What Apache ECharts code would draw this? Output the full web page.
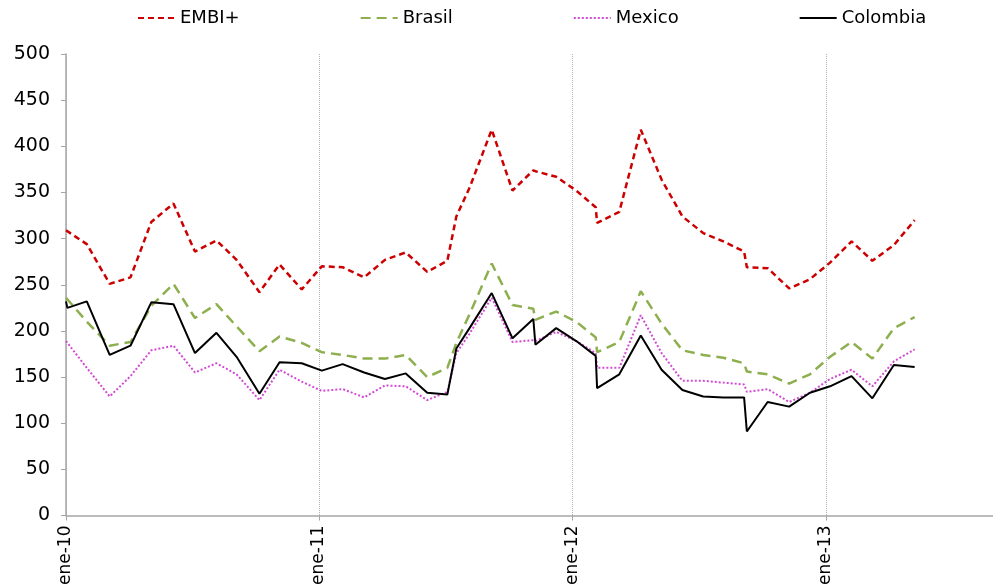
<!DOCTYPE html>
<html>
<head>
<meta charset="utf-8">
<title>Spreads EMBI+</title>
<script src="https://cdn.jsdelivr.net/npm/echarts@6/dist/echarts.min.js"></script>
<style>
  html, body { margin: 0; padding: 0; background: #fff; }
  #chart { width: 993px; height: 588px; }
</style>
</head>
<body>
<div id="chart"></div>
<script>
// Observation dates (spreads in basis points)
const dates = [
  '2010-01-01', '2010-01-03', '2010-01-31', '2010-03-05', '2010-04-04', '2010-05-04',
  '2010-06-05', '2010-07-06', '2010-08-06', '2010-09-04', '2010-10-07', '2010-11-05',
  '2010-12-07', '2011-01-05', '2011-02-04', '2011-03-07', '2011-04-06', '2011-05-06',
  '2011-06-06', '2011-07-05', '2011-07-18', '2011-08-06', '2011-09-07', '2011-10-07',
  '2011-11-06', '2011-11-09', '2011-12-09', '2012-01-07', '2012-02-04', '2012-02-06',
  '2012-03-09', '2012-04-09', '2012-05-09', '2012-06-08', '2012-07-08', '2012-08-06',
  '2012-09-05', '2012-09-09', '2012-10-09', '2012-11-09', '2012-12-09', '2013-01-07',
  '2013-02-07', '2013-03-09', '2013-04-09', '2013-05-09'
];

const embi = [
  309, 307, 294, 251, 258, 318, 338, 286, 298, 277, 242, 272,
  245, 270, 269, 258, 277, 285, 264, 276, 324, 355, 418, 352,
  374, 373, 367, 352, 334, 317, 329, 418, 364, 324, 306, 297,
  286, 269, 268, 246, 256, 274, 297, 276, 293, 320
];

const brasil = [
  236, 234, 210, 184, 188, 227, 251, 214, 229, 205, 178, 194,
  187, 177, 174, 170, 170, 174, 150, 160, 187, 218, 273, 228,
  224, 212, 221, 210, 193, 177, 188, 243, 208, 179, 174, 171,
  165, 156, 153, 143, 153, 172, 188, 170, 203, 215
];

const mexico = [
  189, 187, 160, 129, 151, 179, 184, 155, 165, 153, 125, 158,
  145, 135, 137, 128, 141, 140, 125, 134, 176, 197, 236, 188,
  190, 189, 199, 189, 176, 160, 160, 217, 176, 146, 146, 144,
  142, 134, 137, 123, 133, 148, 158, 140, 167, 180
];

const colombia = [
  232, 225, 232, 174, 184, 231, 229, 176, 198, 172, 132, 166,
  165, 157, 164, 155, 148, 154, 133, 131, 181, 203, 241, 192,
  213, 185, 203, 189, 173, 138, 153, 195, 158, 136, 129, 128,
  128, 91, 123, 118, 133, 140, 151, 127, 163, 161
];

const monthNames = ['ene', 'feb', 'mar', 'abr', 'may', 'jun', 'jul', 'ago', 'sep', 'oct', 'nov', 'dic'];
const yTicks = { min: 0, max: 500, step: 50 };

const FONT = 'DejaVu Sans';
const pair = arr => dates.map((d, i) => [d, arr[i]]);

const seriesDefs = [
  { name: 'EMBI+',    data: embi,     color: '#CC0000', width: 2.5, type: [6, 4] },
  { name: 'Brasil',   data: brasil,   color: '#8DAF4E', width: 2.5, type: [10, 6] },
  { name: 'Mexico',   data: mexico,   color: '#D24BD2', width: 2,   type: [2, 2] },
  { name: 'Colombia', data: colombia, color: '#000000', width: 2,   type: 'solid' }
];

const chart = echarts.init(document.getElementById('chart'), null, { renderer: 'canvas' });

chart.setOption({
  animation: false,
  backgroundColor: '#ffffff',
  legend: {
    data: seriesDefs.map(s => s.name),
    left: 137,
    top: 9,
    padding: 0,
    itemGap: 120,
    itemWidth: 37,
    itemHeight: 14,
    itemStyle: { opacity: 0 },
    textStyle: { fontFamily: FONT, fontSize: 18, color: '#000' }
  },
  grid: { left: 66, right: 0, top: 54, bottom: 72 },
  xAxis: {
    type: 'time',
    min: '2010-01-01',
    max: '2013-08-30',
    minInterval: 365 * 24 * 3600 * 1000,
    maxInterval: 366 * 24 * 3600 * 1000,
    axisLine: { show: true, lineStyle: { color: '#A6A6A6', width: 1.5 } },
    axisTick: { show: true, length: 5, lineStyle: { color: '#A6A6A6' } },
    splitLine: { show: true, lineStyle: { color: '#B0B0B0', type: [1, 1], width: 1 } },
    axisLabel: {
      rotate: 90,
      margin: 10,
      fontFamily: FONT,
      fontSize: 17,
      color: '#000',
      showMaxLabel: false,
      formatter: function (val) {
        const d = new Date(val);
        return monthNames[d.getMonth()] + '-' + String(d.getFullYear()).slice(2);
      }
    }
  },
  yAxis: {
    type: 'value',
    min: yTicks.min,
    max: yTicks.max,
    interval: yTicks.step,
    axisLine: { show: true, lineStyle: { color: '#A6A6A6', width: 1.5 } },
    axisTick: { show: true, length: 5, lineStyle: { color: '#A6A6A6' } },
    splitLine: { show: false },
    axisLabel: { fontFamily: FONT, fontSize: 19, color: '#000', margin: 16 }
  },
  series: seriesDefs.map(s => ({
    name: s.name,
    type: 'line',
    data: pair(s.data),
    symbol: 'none',
    showSymbol: false,
    color: s.color,
    lineStyle: { color: s.color, width: s.width, type: s.type },
    emphasis: { disabled: true }
  }))
});
</script>
</body>
</html>
